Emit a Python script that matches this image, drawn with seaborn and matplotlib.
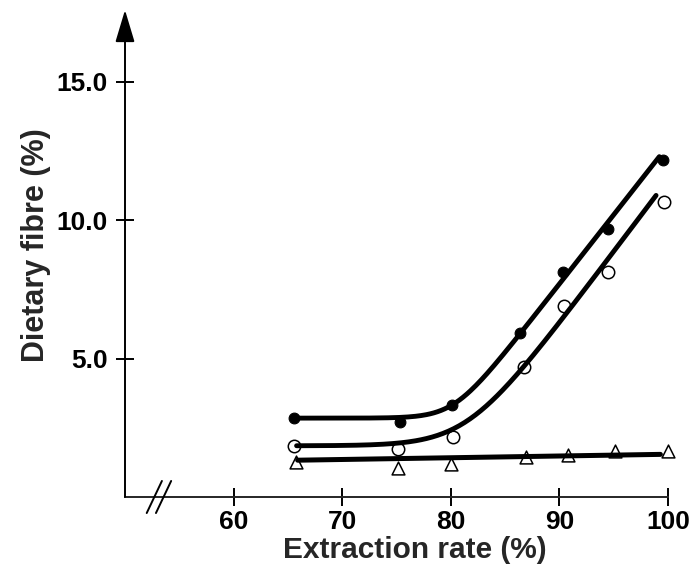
import numpy as np
import seaborn as sns
import matplotlib.pyplot as plt

# points: extraction rate (%) vs dietary fibre (%)
rate_filled = [65.6, 75.3, 80.1, 86.4, 90.3, 94.5, 99.5]
fibre_filled = [2.87, 2.71, 3.31, 5.91, 8.13, 9.67, 12.18]

rate_open = [65.6, 75.1, 80.2, 86.7, 90.4, 94.5, 99.6]
fibre_open = [1.84, 1.75, 2.17, 4.71, 6.90, 8.13, 10.66]

rate_tri = [65.7, 75.1, 80.0, 86.9, 90.8, 95.1, 100.0]
fibre_tri = [1.26, 1.06, 1.20, 1.46, 1.52, 1.68, 1.68]

# hand-drawn trend lines: plateau level, slope after the knee, knee position, bend width, x range
curve_filled = dict(level=2.85, slope=0.50, knee=80.3, width=1.5, start=65.6, end=99.2)
curve_open = dict(level=1.85, slope=0.52, knee=81.5, width=2.5, start=65.8, end=98.9)
line_tri = dict(level=1.33, slope=0.0063, start=65.9, end=99.3)

x_ticks = [60, 70, 80, 90, 100]
y_ticks = [5, 10, 15]
y_tick_labels = ['5.0', '10.0', '15.0']


def knee_curve(x, level, slope, knee, width):
    return level + slope * width * np.logaddexp(0, (x - knee) / width)


sns.set_theme(style='ticks')
plt.rcParams['font.family'] = ['Liberation Sans', 'DejaVu Sans']

fig = plt.figure(figsize=(6.91, 5.72), dpi=100)
ax = fig.add_axes([125 / 691, 1 - 497 / 572, (668 - 125) / 691, (497 - 10) / 572])

# markers first, heavy lines on top
sns.scatterplot(x=rate_filled, y=fibre_filled, marker='o', s=60, color='black',
                edgecolor='black', linewidth=0.8, zorder=2, clip_on=False, ax=ax)
sns.scatterplot(x=rate_open, y=fibre_open, marker='o', s=80, color='white',
                edgecolor='black', linewidth=1.1, zorder=2, clip_on=False, ax=ax)
sns.scatterplot(x=rate_tri, y=fibre_tri, marker='^', s=85, color='white',
                edgecolor='black', linewidth=1.1, zorder=2, clip_on=False, ax=ax)

for c in (curve_filled, curve_open):
    xs = np.linspace(c['start'], c['end'], 200)
    ys = knee_curve(xs, c['level'], c['slope'], c['knee'], c['width'])
    sns.lineplot(x=xs, y=ys, color='black', linewidth=3.5, estimator=None, sort=False,
                 zorder=3, ax=ax)

xs = np.array([line_tri['start'], line_tri['end']])
ys = line_tri['level'] + line_tri['slope'] * (xs - line_tri['start'])
sns.lineplot(x=xs, y=ys, color='black', linewidth=3.6, estimator=None, sort=False,
             zorder=3, ax=ax)

ax.set_xlim(50, 100)
ax.set_ylim(0, 17.6)

sns.despine(ax=ax, left=True)
ax.spines['bottom'].set_linewidth(1.4)
ax.spines['bottom'].set_bounds(50, 100)

# y axis drawn as an arrow
ax.annotate('', xy=(50, 17.6), xytext=(50, 0), xycoords='data',
            arrowprops=dict(arrowstyle='-|>,head_length=1.0,head_width=0.3',
                            color='black', lw=1.4, shrinkA=0, shrinkB=0,
                            mutation_scale=20),
            annotation_clip=False)

# axis break marks
for dx in (0, 0.85):
    ax.plot([52.0 + dx, 53.4 + dx], [-0.58, 0.58], color='black', lw=1.4,
            clip_on=False, zorder=4)

ax.set_xticks(x_ticks)
ax.set_yticks(y_ticks)
ax.set_yticklabels(y_tick_labels)
ax.tick_params(axis='both', direction='inout', length=13, width=1.4,
               labelsize=19, colors='black')
ax.tick_params(axis='x', pad=3)
ax.tick_params(axis='y', pad=6, left=True)
for lab in ax.get_xticklabels() + ax.get_yticklabels():
    lab.set_fontweight('bold')

ax.set_xlabel('Extraction rate (%)', fontsize=21.5, fontweight='bold', labelpad=1)
ax.set_ylabel('Dietary fibre (%)', fontsize=22, fontweight='bold', labelpad=4)
ax.xaxis.label.set_x(0.534)
ax.yaxis.label.set_y(0.517)

fig.savefig('out.png', dpi=100)
